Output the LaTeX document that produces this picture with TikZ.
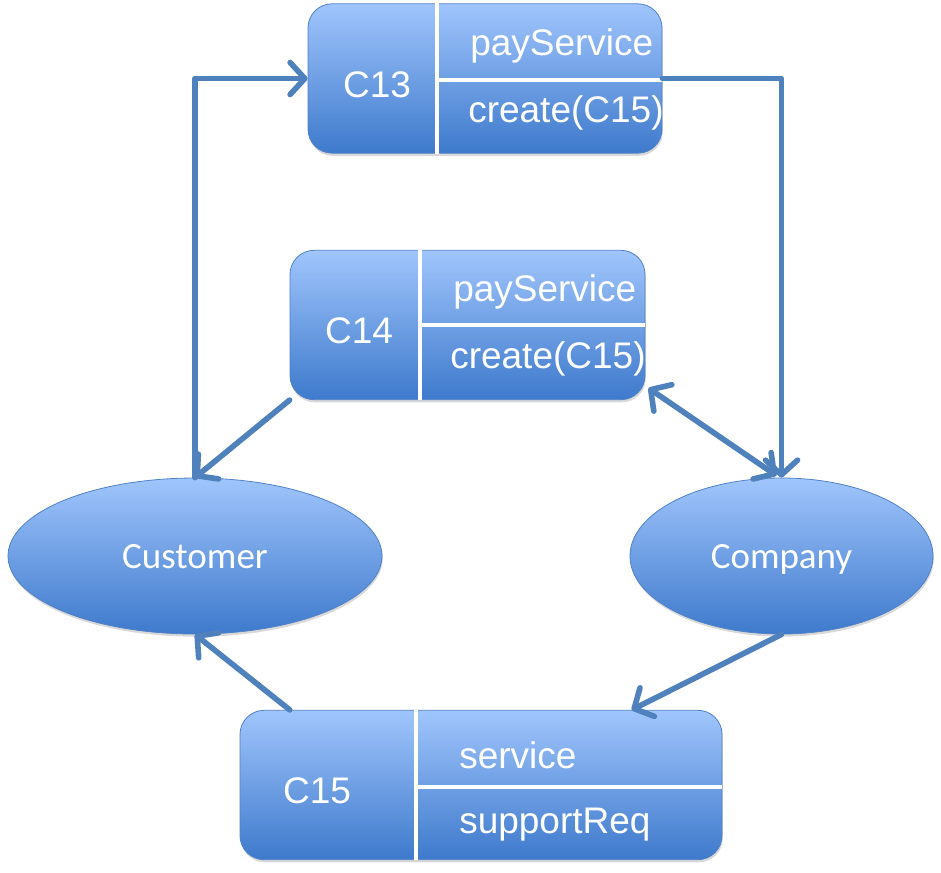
\documentclass[tikz,border=0pt]{standalone}
\usepackage{fontspec}
\setmainfont{Liberation Sans}
\newfontfamily\calibrifont{Carlito}
\usepackage{tikz}
\usetikzlibrary{arrows.meta,calc,shadows,shapes.geometric}
\usepackage{xcolor}
\definecolor{boxtop}{RGB}{160,197,252}
\definecolor{boxbot}{RGB}{62,122,204}
\definecolor{boxline}{RGB}{80,130,200}
\definecolor{linkblue}{RGB}{79,129,189}

\begin{document}
\begin{tikzpicture}[x=0.75pt,y=-0.75pt,>={Straight Barb[length=11pt,width=24pt,round]},
  classbox/.style={draw=boxline,line width=0.6pt,rounded corners=18pt,top color=boxtop,bottom color=boxbot,
    drop shadow={opacity=0.3,shadow xshift=0.6pt,shadow yshift=-2pt},minimum height=112pt,inner sep=0pt},
  actor/.style={ellipse,draw=boxline,line width=0.6pt,top color=boxtop,bottom color=boxbot,
    drop shadow={opacity=0.3,shadow xshift=0.6pt,shadow yshift=-2pt},minimum height=117pt,inner sep=0pt,
    font=\calibrifont\fontsize{27.75}{33}\selectfont,text=white,text height=20pt,text depth=2pt},
  bigtext/.style={font=\fontsize{27.75}{33}\selectfont,text=white,inner sep=0pt},
  divider/.style={white,line width=2.6pt},
  link/.style={draw=linkblue,line width=4.2pt,line cap=round,line join=round}]
\useasboundingbox (0,0) rectangle (941,872);

% classes
\node[classbox,minimum width=265.5pt] (c13) at (485,78.5) {};
\node[classbox,minimum width=266.25pt] (c14) at (467.5,325) {};
\node[classbox,minimum width=361.5pt] (c15) at (481,785) {};
\coordinate (c13div) at (437,80);
\coordinate (c14div) at (420,325);
\coordinate (c15div) at (416,787);
\draw[divider] (c13.north -| c13div) -- (c13.south -| c13div);
\draw[divider] (c13div) -- (c13div -| c13.east);
\draw[divider] (c14.north -| c14div) -- (c14.south -| c14div);
\draw[divider] (c14div) -- (c14div -| c14.east);
\draw[divider] (c15.north -| c15div) -- (c15.south -| c15div);
\draw[divider] (c15div) -- (c15div -| c15.east);

\node[bigtext,anchor=base] (c13name) at (377,97) {C13};
\node[bigtext,anchor=base west] (c13pay) at (470,55) {payService};
\node[bigtext,anchor=base west] (c13create) at (468,122) {create(C15)};
\node[bigtext,anchor=base] (c14name) at (359,343) {C14};
\node[bigtext,anchor=base west] (c14pay) at (453,301) {payService};
\node[bigtext,anchor=base west] (c14create) at (450,368) {create(C15)};
\node[bigtext,anchor=base] (c15name) at (317,803) {C15};
\node[bigtext,anchor=base west] (c15service) at (459,768) {service};
\node[bigtext,anchor=base west] (c15support) at (459,833) {supportReq};

% roles
\node[actor,minimum width=280.5pt] (customer) at (195,556) {Customer};
\node[actor,minimum width=227.25pt] (company) at (781.5,556) {Company};

% links
\draw[link,->] (customer.north) |- (c13.west);
\draw[link,->] (c13.east) -| (company.north);
\draw[link,->] (c14.south west) -- (customer.north);
\draw[link,<->] ($(c14.south east)+(3,-12)$) -- ($(company.north)+(-5,-2)$);
\draw[link,->] (company.south) -- ($(c15.north west)!0.812!(c15.north east)$);
\draw[link,->] ($(c15.north west)!0.104!(c15.north east)$) -- (customer.south);
\end{tikzpicture}
\end{document}
